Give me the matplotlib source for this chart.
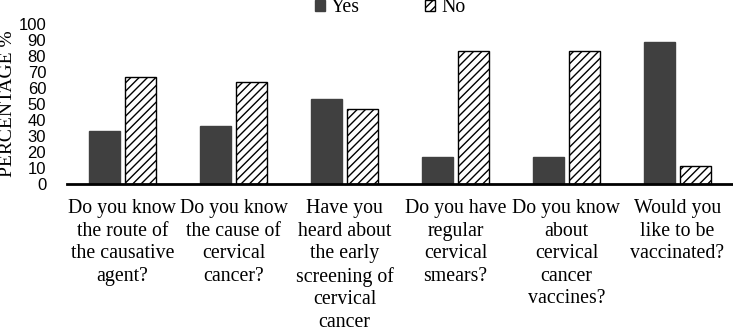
import matplotlib
matplotlib.use("Agg")
import matplotlib.pyplot as plt
import numpy as np

categories = [
    "Do you know\nthe route of\nthe causative\nagent?",
    "Do you know\nthe cause of\ncervical\ncancer?",
    "Have you\nheard about\nthe early\nscreening of\ncervical\ncancer",
    "Do you have\nregular\ncervical\nsmears?",
    "Do you know\nabout\ncervical\ncancer\nvaccines?",
    "Would you\nlike to be\nvaccinated?",
]
yes_values = [33, 36, 53, 17, 17, 89]
no_values = [67, 64, 47, 83, 83, 11]
yticks = [0, 10, 20, 30, 40, 50, 60, 70, 80, 90, 100]

W, H = 733, 328
plt.rcParams['hatch.linewidth'] = 1.0
fig = plt.figure(figsize=(W / 100, H / 100), dpi=100)
ax = fig.add_axes([67 / W, 1 - 184 / H, 1 - 67 / W, 160 / H])

x = np.arange(len(categories))
bw = 0.28
gap = 0.045
ax.bar(x - bw / 2 - gap / 2, yes_values, width=bw, color="#404040",
       edgecolor="#404040", label="Yes", zorder=2)
ax.bar(x + bw / 2 + gap / 2, no_values, width=bw, color="white",
       edgecolor="black", hatch="////", linewidth=1.0, label="No", zorder=2)

ax.set_xlim(-0.5, len(categories) - 0.5)
ax.set_ylim(0, 100)
ax.set_yticks(yticks)
ax.set_yticklabels([str(v) for v in yticks], family="Liberation Sans", fontsize=12)
ax.set_xticks(x)
ax.set_xticklabels(categories, family="Liberation Serif", fontsize=14.3,
                   linespacing=1.25, ha="center", va="top")
ax.tick_params(axis="both", length=0)
ax.tick_params(axis="y", pad=15)
ax.tick_params(axis="x", pad=11)
for s in ["left", "right", "top"]:
    ax.spines[s].set_visible(False)
ax.spines["bottom"].set_linewidth(2)
ax.spines["bottom"].set_zorder(3)

ax.set_ylabel("PERCENTAGE %", family="Liberation Serif", fontsize=14)
ax.yaxis.set_label_coords((16 - 67) / (W - 67), 0.5)

leg = fig.legend(loc="center left", bbox_to_anchor=(315 / W, 1 - 8 / H), ncol=2,
                 frameon=False, prop={"family": "Liberation Serif", "size": 14.3},
                 handlelength=0.5, handleheight=0.5, handletextpad=0.3,
                 columnspacing=3.3, borderpad=0, borderaxespad=0)

fig.savefig("out.png", dpi=100)
